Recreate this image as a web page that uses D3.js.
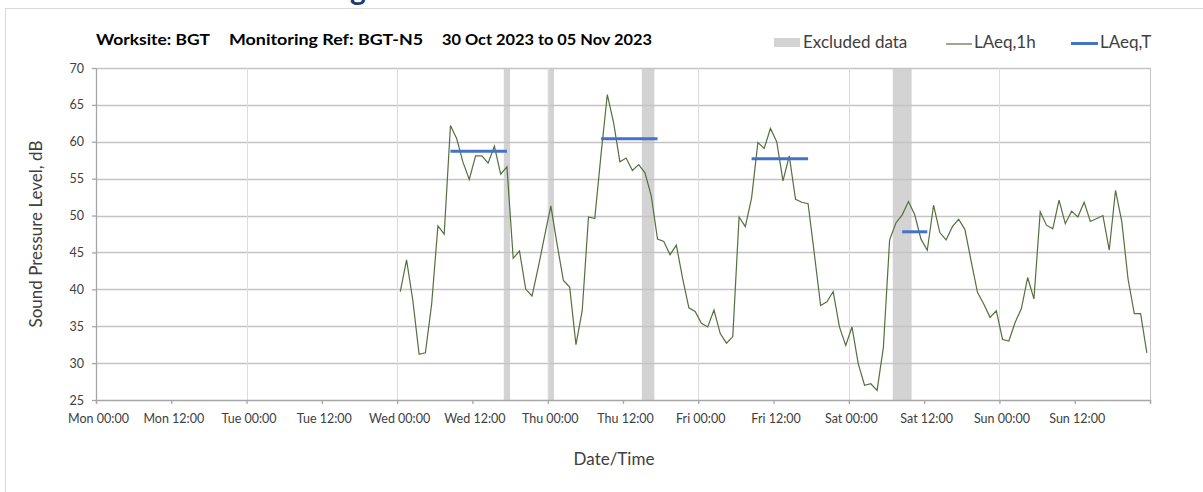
<!DOCTYPE html>
<html>
<head>
<meta charset="utf-8">
<script src="https://cdn.jsdelivr.net/npm/d3@7"></script>
<style>
  body { margin: 0; background: #fff; }
  svg { display: block; font-family: Lato, "Open Sans", sans-serif; }
</style>
</head>
<body>
<div class="noise-chart"></div>
<script>

// week shown on the x axis
var weekStart = "2023-10-30T00:00Z",
    weekEnd = "2023-11-06T00:00Z";

// LAeq,1h - one value per hour, first hour starts Wed 01 Nov 00:00
var hourlyStart = "2023-11-01T00:00Z";
var laeq1h = [
  39.7, 44.0, 38.5, 31.2, 31.4, 38.0, 48.6, 47.5, 62.2, 60.4, 57.2, 54.9,
  58.1, 58.1, 57.1, 59.4, 55.6, 56.6, 44.2, 45.2, 40.0, 39.1, 43.0, 47.2,
  51.3, 46.1, 41.2, 40.3, 32.5, 37.1, 49.8, 49.6, 58.3, 66.4, 62.6, 57.3,
  57.8, 56.1, 56.9, 55.8, 52.7, 46.8, 46.5, 44.7, 46.0, 41.5, 37.5, 37.0,
  35.4, 34.9, 37.2, 34.0, 32.7, 33.6, 49.8, 48.5, 52.4, 59.9, 59.1, 61.8,
  60.0, 54.7, 58.1, 52.2, 51.8, 51.6, 44.8, 37.8, 38.3, 39.7, 34.9, 32.4,
  34.9, 29.9, 27.0, 27.2, 26.3, 32.1, 46.7, 49.0, 50.1, 51.9, 50.1, 46.8,
  45.3, 51.4, 47.7, 46.7, 48.5, 49.5, 48.1, 43.8, 39.6, 38.0, 36.2, 37.1,
  33.2, 33.0, 35.5, 37.4, 41.6, 38.7, 50.5, 48.7, 48.2, 52.1, 48.9, 50.6,
  49.8, 51.8, 49.2, 49.6, 50.0, 45.3, 53.4, 49.2, 41.4, 36.7, 36.7, 31.4
];

// LAeq,T over the working period of each day (first and last hour)
var laeqTFrom = ["2023-11-01T08:00Z", "2023-11-02T08:00Z", "2023-11-03T08:00Z", "2023-11-04T08:00Z"];
var laeqTTo   = ["2023-11-01T17:00Z", "2023-11-02T17:00Z", "2023-11-03T17:00Z", "2023-11-04T12:00Z"];
var laeqT     = [58.7, 60.4, 57.7, 47.8];

// excluded periods
var excludedFrom = ["2023-11-01T17:00Z", "2023-11-02T00:00Z", "2023-11-02T15:00Z", "2023-11-04T07:00Z"];
var excludedTo   = ["2023-11-01T18:00Z", "2023-11-02T01:00Z", "2023-11-02T17:00Z", "2023-11-04T10:00Z"];

var yTicks = [25, 30, 35, 40, 45, 50, 55, 60, 65, 70];

var titleParts = ["Worksite: BGT", "Monitoring Ref: BGT-N5", "30 Oct 2023 to 05 Nov 2023"];

function noiseChart() {

  var width = 1203,
      height = 492,
      left = 96,
      right = 1150,
      top = 68,
      bottom = 400;

  var HOUR = 3600 * 1000;

  // hourly values are drawn at the middle of their hour
  function mid(t) { return new Date(t.getTime() + HOUR / 2); }

  var hourly = laeq1h.map(function(v, i) {
    return { t: new Date(new Date(hourlyStart).getTime() + i * HOUR), value: v };
  });

  var x = d3.scaleUtc()
      .domain([new Date(weekStart), new Date(weekEnd)])
      .range([left, right]);

  var y = d3.scaleLinear()
      .domain([25, 70])
      .range([bottom, top]);

  var svg = d3.select(".noise-chart").append("svg")
      .attr("width", width)
      .attr("height", height);

  // outer frame + cut off heading above it
  svg.append("text")
      .attr("x", 350)
      .attr("y", 0)
      .style("font-size", "30px")
      .style("font-weight", "bold")
      .style("fill", "#1f3a6e")
      .text("g");

  svg.append("rect")
      .attr("x", 5.5)
      .attr("y", 8.5)
      .attr("width", 1250)
      .attr("height", 500)
      .style("fill", "none")
      .style("stroke", "#d9d9d9");

  // title
  var titleX = [96, 229, 442],
      titleW = [114, 194, 210];
  svg.selectAll(".title")
      .data(titleParts)
      .enter()
      .append("text")
      .attr("class", "title")
      .attr("x", function(d, i) { return titleX[i]; })
      .attr("y", 45)
      .attr("textLength", function(d, i) { return titleW[i]; })
      .attr("lengthAdjust", "spacingAndGlyphs")
      .style("font-size", "16px")
      .style("font-weight", "bold")
      .style("fill", "#000")
      .text(function(d) { return d; });

  // excluded bands
  svg.selectAll(".excluded")
      .data(excludedFrom)
      .enter()
      .append("rect")
      .attr("class", "excluded")
      .attr("x", function(d) { return x(new Date(d)); })
      .attr("width", function(d, i) { return x(new Date(excludedTo[i])) - x(new Date(d)); })
      .attr("y", top)
      .attr("height", bottom - top)
      .style("fill", "#d3d3d3");

  // horizontal grid
  svg.append("g")
      .selectAll("line")
      .data(yTicks.slice(1))
      .enter()
      .append("line")
      .attr("x1", left)
      .attr("x2", right)
      .attr("y1", function(d) { return Math.round(y(d)) + 0.5; })
      .attr("y2", function(d) { return Math.round(y(d)) + 0.5; })
      .style("stroke", "#c4c4c4")
      .style("stroke-width", 1.3);

  // vertical grid at each midnight
  var days = d3.utcDay.range(d3.utcDay.offset(new Date(weekStart), 1), new Date(weekEnd));
  svg.append("g")
      .selectAll("line")
      .data(days)
      .enter()
      .append("line")
      .attr("x1", function(d) { return Math.round(x(d)) + 0.5; })
      .attr("x2", function(d) { return Math.round(x(d)) + 0.5; })
      .attr("y1", top)
      .attr("y2", bottom)
      .style("stroke", "#dcdcdc")
      .style("stroke-width", 1);

  // right edge
  svg.append("line")
      .attr("x1", right + 0.5).attr("x2", right + 0.5)
      .attr("y1", top).attr("y2", bottom + 4)
      .style("stroke", "#c4c4c4");

  // axes
  var xAxis = d3.axisBottom(x)
      .ticks(d3.utcHour.every(12))
      .tickSizeOuter(0)
      .tickSize(4)
      .tickPadding(10)
      .tickFormat(d3.utcFormat("%a %H:%M"));

  var gx = svg.append("g")
      .attr("transform", "translate(0," + bottom + ")")
      .call(xAxis);
  gx.selectAll(".tick text").attr("dx", 2);
  gx.selectAll(".tick").filter(function(d) { return d.getTime() === new Date(weekEnd).getTime(); })
      .select("text").remove();

  var yAxis = d3.axisLeft(y)
      .tickValues(yTicks)
      .tickSize(4)
      .tickSizeOuter(0)
      .tickPadding(8);

  var gy = svg.append("g")
      .attr("transform", "translate(" + left + ",0)")
      .call(yAxis);

  svg.selectAll(".domain, .tick line").style("stroke", "#a6a6a6").style("stroke-width", 1.3);
  svg.selectAll(".tick text")
      .style("font-size", "12.5px")
      .style("fill", "#404040")
      .style("font-family", "Lato, sans-serif");

  // LAeq,1h
  var line = d3.line()
      .x(function(d) { return x(mid(d.t)); })
      .y(function(d) { return y(d.value); });

  svg.append("path")
      .datum(hourly)
      .attr("d", line)
      .style("fill", "none")
      .style("stroke", "#55703f")
      .style("stroke-width", 1.2);

  // LAeq,T
  svg.selectAll(".laeqT")
      .data(laeqT)
      .enter()
      .append("line")
      .attr("class", "laeqT")
      .attr("x1", function(d, i) { return x(mid(new Date(laeqTFrom[i]))); })
      .attr("x2", function(d, i) { return x(mid(new Date(laeqTTo[i]))); })
      .attr("y1", function(d) { return y(d); })
      .attr("y2", function(d) { return y(d); })
      .style("stroke", "#4472c4")
      .style("stroke-width", 3);

  // axis titles
  svg.append("text")
      .attr("transform", "translate(42," + 234 + ") rotate(-90)")
      .attr("text-anchor", "middle")
      .style("font-size", "17px")
      .style("fill", "#404040")
      .text("Sound Pressure Level, dB");

  svg.append("text")
      .attr("x", 614)
      .attr("y", 465)
      .attr("text-anchor", "middle")
      .style("font-size", "17px")
      .style("fill", "#404040")
      .text("Date/Time");

  // legend
  var legend = svg.append("g");
  legend.append("rect")
      .attr("x", 774).attr("y", 38)
      .attr("width", 26).attr("height", 9)
      .style("fill", "#d3d3d3");
  legend.append("text")
      .attr("x", 803).attr("y", 48)
      .style("font-size", "17px").style("fill", "#404040")
      .text("Excluded data");
  legend.append("line")
      .attr("x1", 946).attr("x2", 972)
      .attr("y1", 44).attr("y2", 44)
      .style("stroke", "#55703f").style("stroke-width", 1.2);
  legend.append("text")
      .attr("x", 974).attr("y", 48)
      .style("font-size", "17px").style("fill", "#404040")
      .text("LAeq,1h");
  legend.append("line")
      .attr("x1", 1071).attr("x2", 1098)
      .attr("y1", 43.5).attr("y2", 43.5)
      .style("stroke", "#4472c4").style("stroke-width", 3);
  legend.append("text")
      .attr("x", 1100).attr("y", 48)
      .style("font-size", "17px").style("fill", "#404040")
      .text("LAeq,T");
}

noiseChart();

</script>
</body>
</html>
